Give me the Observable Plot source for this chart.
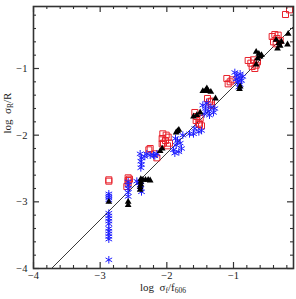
<!DOCTYPE html>
<html><head><meta charset="utf-8">
<script src="https://cdn.jsdelivr.net/npm/d3@7"></script>
<script src="https://cdn.jsdelivr.net/npm/@observablehq/plot@0.6"></script>
<style>body{margin:0;background:#fff}</style>
</head><body><div id="chart"></div>
<script>
// Red open squares
const redX = [-2.87,-2.87,-2.58,-2.58,-2.58,-2.56,-2.6,
  -2.27,-2.18,-2.15,-2.07,-2.25,
  -2.06,-2.01,-2.07,-2.02,-2.05,-1.98,-1.96,-1.99,
  -1.58,-1.55,-1.5,-1.56,-1.52,-1.48,-1.51,
  -1.39,-1.36,-1.33,-1.33,
  -1.1,-1.05,-1.02,-1.08,
  -0.78,-0.74,-0.7,-0.72,-0.66,-0.68,-0.64,
  -0.42,-0.38,-0.35,-0.4,-0.33,-0.3,-0.36,
  -0.22,-0.16];
const redY = [-2.67,-2.69,-2.64,-2.68,-2.72,-2.66,-2.77,
  -2.22,-2.28,-2.34,-2.13,-2.2,
  -1.98,-2.0,-2.05,-2.08,-2.12,-2.03,-2.12,-2.16,
  -1.66,-1.72,-1.75,-1.78,-1.82,-1.86,-1.84,
  -1.45,-1.5,-1.55,-1.49,
  -1.15,-1.2,-1.17,-1.23,
  -0.88,-0.92,-0.87,-0.97,-0.95,-1.0,-0.9,
  -0.52,-0.49,-0.55,-0.6,-0.5,-0.58,-0.63,
  -0.19,-0.12];
// Blue asterisks
const blueX = [-2.87,-2.87,-2.87,-2.87,-2.87,-2.87,-2.87,-2.87,-2.87,-2.87,-2.87,-2.87,-2.87,-2.87,-2.87,
  -2.58,-2.58,-2.58,-2.58,-2.58,-2.45,-2.42,
  -2.39,-2.38,-2.39,-2.38,-2.39,-2.4,-2.39,-2.38,
  -2.3,-2.25,-2.2,-2.15,-2.4,-2.33,-2.18,
  -1.9,-1.86,-1.84,-1.8,-1.78,-1.82,-1.87,-1.76,-1.88,
  -1.58,-1.52,-1.6,-1.48,-1.66,
  -1.46,-1.42,-1.38,-1.34,-1.3,-1.44,-1.36,-1.28,-1.4,
  -0.98,-0.95,-0.92,-0.9,-0.88,-0.94,-0.9,-0.86,-0.96,-0.92];
const blueY = [-2.88,-2.91,-2.94,-2.97,-3.17,-3.21,-3.25,-3.29,-3.33,-3.4,-3.44,-3.48,-3.52,-3.56,-3.87,
  -2.7,-2.75,-2.8,-2.86,-2.92,-2.69,-2.72,
  -2.39,-2.44,-2.49,-2.34,-2.7,-2.75,-2.8,-2.85,
  -2.28,-2.3,-2.3,-2.28,-2.28,-2.32,-2.31,
  -2.22,-2.15,-2.08,-2.12,-2.2,-2.25,-2.05,-2.0,-2.27,
  -1.9,-1.95,-1.98,-1.93,-1.98,
  -1.55,-1.6,-1.64,-1.58,-1.66,-1.68,-1.7,-1.6,-1.52,
  -1.06,-1.1,-1.14,-1.08,-1.18,-1.2,-1.24,-1.12,-1.16,-1.28];
// Black filled triangles
const blackX = [-2.87,-2.58,-2.58,
  -2.39,-2.39,-2.39,-2.36,-2.32,-2.28,-2.25,-2.4,-2.4,
  -2.1,-2.07,
  -1.84,-1.82,-1.86,
  -1.6,-1.55,-1.5,
  -1.46,-1.42,-1.38,-1.34,-1.4,-1.27,
  -0.91,-0.9,
  -0.66,-0.62,-0.6,-0.64,-0.58,-0.66,
  -0.36,-0.32,-0.3,-0.34,-0.28,-0.19,-0.18];
const blackY = [-3.0,-3.0,-3.05,
  -2.66,-2.7,-2.74,-2.67,-2.67,-2.67,-2.68,-2.78,-2.82,
  -2.24,-2.2,
  -1.94,-1.92,-1.96,
  -1.72,-1.7,-1.66,
  -1.34,-1.33,-1.34,-1.35,-1.3,-1.45,
  -1.31,-1.27,
  -0.75,-0.78,-0.82,-0.85,-0.8,-0.94,
  -0.57,-0.62,-0.66,-0.7,-0.6,-0.64,-0.48];
// Fit line end points
const lineX = [-3.73, -0.1];
const lineY = [-4.0, -0.37];
const majorTicks = [-4, -3, -2, -1];
const minorTicks = d3.range(-40, 0, 2).map(v => v / 10).filter(v => !majorTicks.includes(v));

const zip = (xs, ys) => xs.map((x, i) => ({x, y: ys[i]}));
const red = zip(redX, redY), blue = zip(blueX, blueY), black = zip(blackX, blackY);
const fit = zip(lineX, lineY);

const W = 296, H = 299, mT = 6, mB = 31, mL = 33, mR = 3;
const ih = H - mT - mB, iw = W - mL - mR;
const ax = "#333";
const fmt = d3.format("d");
const chart = Plot.plot({
  width: W, height: H,
  marginTop: mT, marginBottom: mB, marginLeft: mL, marginRight: mR,
  style: {fontFamily: "Liberation Serif", fontSize: "10.5px", background: "white", color: "#222"},
  x: {domain: [-4, -0.1]},
  y: {domain: [-4, -0.07]},
  marks: [
    Plot.line(fit, {x: "x", y: "y", stroke: "#222", strokeWidth: 0.9}),
    Plot.dot(red, {x: "x", y: "y", symbol: "square", r: 3.4, stroke: "#e8222c", strokeWidth: 1, fill: "none"}),
    Plot.dot(blue, {x: "x", y: "y", symbol: "asterisk", r: 3.6, stroke: "#1f1fff", strokeWidth: 1}),
    Plot.dot(black, {x: "x", y: "y", symbol: "triangle", r: 2.5, fill: "black", stroke: "none"}),
    // inward ticks
    Plot.tickX(majorTicks, {x: d => d, insetTop: ih - 6, stroke: ax, strokeWidth: 1.2}),
    Plot.tickX(majorTicks, {x: d => d, insetBottom: ih - 6, stroke: ax, strokeWidth: 1.2}),
    Plot.tickX(minorTicks, {x: d => d, insetTop: ih - 3, stroke: ax, strokeWidth: 1.1}),
    Plot.tickX(minorTicks, {x: d => d, insetBottom: ih - 3, stroke: ax, strokeWidth: 1.1}),
    Plot.tickY(majorTicks, {y: d => d, insetRight: iw - 6, stroke: ax, strokeWidth: 1.2}),
    Plot.tickY(majorTicks, {y: d => d, insetLeft: iw - 6, stroke: ax, strokeWidth: 1.2}),
    Plot.tickY(minorTicks, {y: d => d, insetRight: iw - 3, stroke: ax, strokeWidth: 1.1}),
    Plot.tickY(minorTicks, {y: d => d, insetLeft: iw - 3, stroke: ax, strokeWidth: 1.1}),
    Plot.axisX(majorTicks, {tickSize: 0, tickPadding: 3, tickFormat: fmt, label: null}),
    Plot.axisY(majorTicks, {tickSize: 0, tickPadding: 6, tickFormat: fmt, label: null}),
    Plot.frame({stroke: ax, strokeWidth: 1.6})
  ]
});
const svg = d3.select(chart);
const xl = svg.append("text").attr("x", 163).attr("y", 291).attr("text-anchor", "middle")
  .attr("font-family", "Liberation Serif").attr("font-size", 11).attr("fill", "#222");
xl.append("tspan").text("log  σ");
xl.append("tspan").attr("font-size", 7.5).attr("dy", 2).text("f");
xl.append("tspan").attr("dy", -2).text("/f");
xl.append("tspan").attr("font-size", 7.5).attr("dy", 2).text("606");
const yl = svg.append("text").attr("transform", "translate(11,113) rotate(-90)").attr("text-anchor", "middle")
  .attr("font-family", "Liberation Serif").attr("font-size", 11).attr("fill", "#222");
yl.append("tspan").text("log  σ");
yl.append("tspan").attr("font-size", 7.5).attr("dy", 2).text("R");
yl.append("tspan").attr("dy", -2).text("/R");
document.getElementById("chart").appendChild(chart);
</script></body></html>
